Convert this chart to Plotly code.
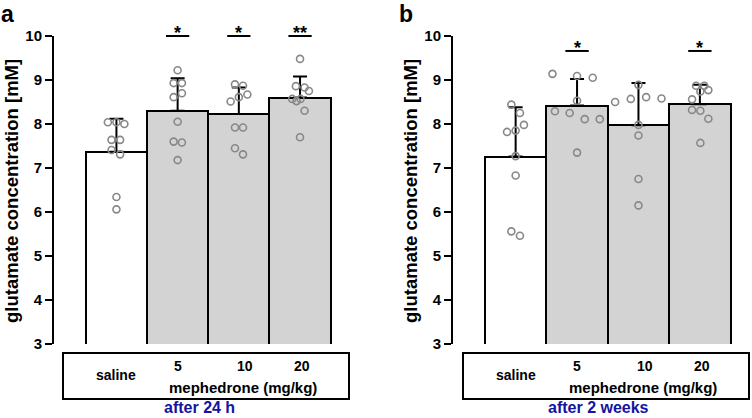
import plotly.graph_objects as go

# ---------------- data ----------------
groups = ["saline", "5", "10", "20"]
dose_labels = ["5", "10", "20"]
y_ticks = [3, 4, 5, 6, 7, 8, 9, 10]

# panel a: after 24 h
means_a = [7.37, 8.30, 8.23, 8.60]
sd_a = [0.75, 0.74, 0.60, 0.48]
pts_a = [
    [8.04, 8.04, 8.00, 7.64, 7.64, 7.41, 7.31, 6.34, 6.06],
    [9.22, 8.93, 8.93, 8.61, 8.70, 8.05, 7.60, 7.58, 7.18],
    [8.90, 8.87, 8.51, 8.61, 8.67, 7.92, 7.92, 7.45, 7.31],
    [9.48, 8.86, 8.83, 8.75, 8.57, 8.52, 8.57, 8.30, 7.70],
]
jit_a = [
    [-0.14, 0.00, 0.13, -0.08, 0.06, -0.08, 0.06, 0.00, 0.00],
    [0.00, -0.065, 0.07, -0.065, 0.07, 0.00, -0.065, 0.07, 0.00],
    [-0.063, 0.068, -0.134, 0.00, 0.14, -0.063, 0.068, -0.063, 0.068],
    [0.00, -0.068, 0.074, 0.145, -0.128, -0.057, 0.008, 0.074, 0.00],
]
sig_a = ["", "*", "*", "**"]
sig_y_a = 10.0

# panel b: after 2 weeks
means_b = [7.26, 8.42, 7.97, 8.45]
sd_b = [1.12, 0.60, 0.96, 0.44]
pts_b = [
    [8.44, 8.25, 7.82, 7.85, 7.98, 7.27, 6.83, 5.56, 5.46],
    [9.14, 9.09, 9.05, 8.53, 8.29, 8.25, 8.11, 8.11, 7.35],
    [8.50, 8.57, 8.89, 8.61, 8.58, 7.98, 7.74, 6.75, 6.15],
    [8.87, 8.87, 8.74, 8.77, 8.56, 8.32, 8.30, 8.12, 7.57],
]
jit_b = [
    [-0.07, 0.07, -0.14, 0.00, 0.135, 0.00, 0.00, -0.07, 0.07],
    [-0.40, 0.00, 0.255, 0.00, -0.36, -0.12, 0.125, 0.37, 0.00],
    [-0.38, -0.125, 0.00, 0.125, 0.375, 0.00, 0.00, 0.00, 0.00],
    [-0.062, 0.073, 0.008, 0.138, -0.127, -0.127, 0.008, 0.138, 0.008],
]
sig_b = ["", "*", "", "*"]
sig_y_b = 9.66

y_range = [3, 10]
x_range = [-1.02, 3.80]

FONT = "Liberation Sans"
BAR_COLORS = ["white", "#d3d3d3", "#d3d3d3", "#d3d3d3"]
PT_COLOR = "#888888"
BLUE = "#1414a0"
W, H = 752, 418

fig = go.Figure()

panels = [
    dict(means=means_a, sd=sd_a, pts=pts_a, jit=jit_a, sig=sig_a, sig_y=sig_y_a,
         xa="x", ya="y", xdom=[54 / W, 349 / W], box=[63 / W, 349 / W],
         letter="a", letter_x=7 / W, ytitle_x=11 / W, caption="after 24 h"),
    dict(means=means_b, sd=sd_b, pts=pts_b, jit=jit_b, sig=sig_b, sig_y=sig_y_b,
         xa="x2", ya="y2", xdom=[453 / W, 749 / W], box=[463 / W, 749 / W],
         letter="b", letter_x=406 / W, ytitle_x=410 / W, caption="after 2 weeks"),
]

ydom = [(H - 344) / H, (H - 36) / H]


def val_to_paper_y(v):
    return ydom[0] + (v - y_range[0]) / (y_range[1] - y_range[0]) * (ydom[1] - ydom[0])


def idx_to_paper_x(i, xdom):
    return xdom[0] + (i - x_range[0]) / (x_range[1] - x_range[0]) * (xdom[1] - xdom[0])


shapes = []
annotations = []


def ann(text, x, y, xref, yref, size, color="black", **kw):
    d = dict(text=text, x=x, y=y, xref=xref, yref=yref, showarrow=False,
             xanchor="center", yanchor="middle",
             font=dict(family=FONT, size=size, color=color))
    d.update(kw)
    annotations.append(d)


for p in panels:
    idx = list(range(len(groups)))
    fig.add_trace(go.Bar(
        x=idx, y=p["means"], width=1.0,
        marker=dict(color=BAR_COLORS, line=dict(color="black", width=2)),
        error_y=dict(type="data", symmetric=False, array=p["sd"],
                     arrayminus=[0] * len(groups), color="black",
                     thickness=2, width=7),
        xaxis=p["xa"], yaxis=p["ya"], showlegend=False, hoverinfo="skip",
    ))
    for i, (vals, jit) in enumerate(zip(p["pts"], p["jit"])):
        fig.add_trace(go.Scatter(
            x=[i + j for j in jit], y=vals, mode="markers",
            marker=dict(symbol="circle-open", size=7, color=PT_COLOR,
                        line=dict(width=1.6, color=PT_COLOR)),
            xaxis=p["xa"], yaxis=p["ya"], showlegend=False, cliponaxis=False,
            hoverinfo="skip",
        ))
    # significance
    for i, s in enumerate(p["sig"]):
        if not s:
            continue
        shapes.append(dict(type="line", xref="paper", yref="paper",
                           x0=idx_to_paper_x(i - 0.19, p["xdom"]),
                           x1=idx_to_paper_x(i + 0.19, p["xdom"]),
                           y0=val_to_paper_y(p["sig_y"]), y1=val_to_paper_y(p["sig_y"]),
                           line=dict(color="black", width=2)))
        ann("<b>" + s + "</b>", i, val_to_paper_y(p["sig_y"]), p["xa"], "paper", 18,
            yanchor="bottom", yshift=-9)
    # table box
    shapes.append(dict(type="rect", xref="paper", yref="paper",
                       x0=p["box"][0], x1=p["box"][1],
                       y0=(H - 399) / H, y1=(H - 353) / H,
                       line=dict(color="black", width=2), fillcolor="rgba(0,0,0,0)"))
    ann("<b>saline</b>", 0, (H - 375) / H, p["xa"], "paper", 14)
    for k, d in enumerate(dose_labels):
        ann("<b>" + d + "</b>", [1.0, 2.1, 3.04][k], (H - 366) / H, p["xa"], "paper", 14)
    ann("<b>mephedrone (mg/kg)</b>", 2.07, (H - 387) / H, p["xa"], "paper", 15)
    ann("<b>" + p["caption"] + "</b>", 1.35, 0.0, p["xa"], "paper", 16, BLUE,
        yanchor="bottom")
    # y title
    ann("<b>glutamate concentration [mM]</b>", p["ytitle_x"], (H - 191) / H,
        "paper", "paper", 18.5, textangle=-90)
    # panel letter
    ann("<b>" + p["letter"] + "</b>", p["letter_x"], (H - 14) / H, "paper", "paper", 23)

axis_x = dict(range=x_range, visible=False, fixedrange=True, automargin=False)
axis_y = dict(range=y_range, domain=ydom, showline=True, linewidth=2, linecolor="black",
              ticks="outside", ticklen=7, tickwidth=2, tickcolor="black",
              tickmode="array", tickvals=y_ticks,
              ticktext=["<b>%d</b>" % t for t in y_ticks],
              showgrid=False, zeroline=False, automargin=False, fixedrange=True,
              tickfont=dict(family=FONT, size=15, color="black"))

fig.update_layout(
    template="none",
    width=W, height=H,
    margin=dict(l=0, r=0, t=0, b=0, pad=0),
    autosize=False,
    paper_bgcolor="white", plot_bgcolor="white",
    bargap=0,
    hovermode=False,
    xaxis=dict(axis_x, domain=panels[0]["xdom"], anchor="y"),
    yaxis=dict(axis_y, anchor="x"),
    xaxis2=dict(axis_x, domain=panels[1]["xdom"], anchor="y2"),
    yaxis2=dict(axis_y, anchor="x2"),
    shapes=shapes, annotations=annotations,
    font=dict(family=FONT),
)

fig.write_html("out.html", config={"responsive": False, "displayModeBar": False},
               post_script="document.body.style.margin='0px';")
